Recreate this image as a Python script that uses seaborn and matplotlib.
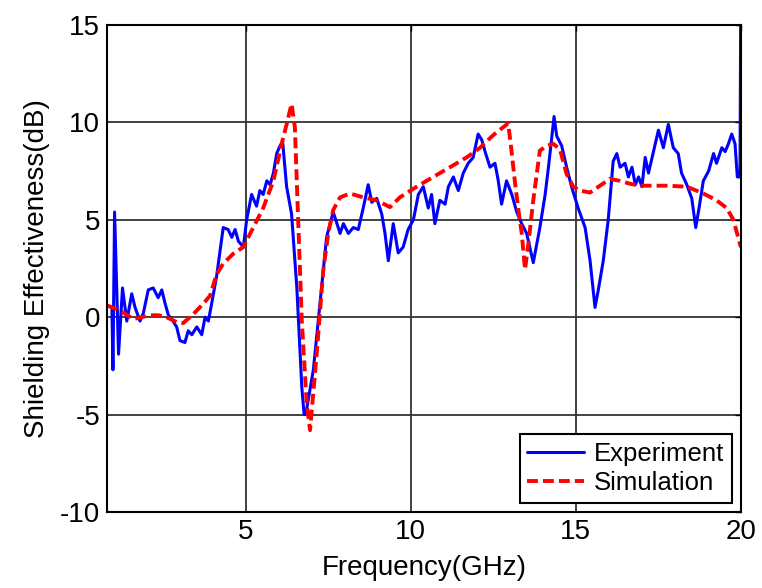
import numpy as np
import pandas as pd
import matplotlib
matplotlib.use("Agg")
import matplotlib.pyplot as plt
import seaborn as sns

exp_freq = [0.95, 0.98, 1.03, 1.15, 1.27, 1.40, 1.55, 1.65, 1.80, 1.90, 2.05, 2.20, 2.35, 2.46,
            2.56, 2.66, 2.76, 2.91, 3.01, 3.16, 3.26, 3.37, 3.52, 3.67, 3.77, 3.87, 3.97, 4.12,
            4.32, 4.47, 4.58, 4.68, 4.78, 4.93, 5.03, 5.18, 5.33, 5.43, 5.53, 5.64, 5.74, 5.84,
            5.94, 6.04, 6.12, 6.24, 6.39, 6.55, 6.70, 6.77, 6.82, 7.05, 7.25, 7.45, 7.65, 7.86,
            7.96, 8.11, 8.26, 8.41, 8.56, 8.71, 8.82, 8.97, 9.12, 9.22, 9.32, 9.47, 9.62, 9.77,
            9.92, 10.08, 10.23, 10.38, 10.53, 10.63, 10.73, 10.88, 11.04, 11.14, 11.29, 11.44,
            11.59, 11.74, 11.89, 12.04, 12.15, 12.25, 12.40, 12.55, 12.65, 12.75, 12.90, 13.06,
            13.21, 13.36, 13.51, 13.71, 13.91, 14.07, 14.17, 14.27, 14.34, 14.42, 14.57, 14.72,
            14.87, 15.07, 15.28, 15.43, 15.58, 15.68, 15.83, 15.98, 16.13, 16.24, 16.34, 16.49,
            16.59, 16.70, 16.80, 16.90, 17.00, 17.10, 17.20, 17.35, 17.50, 17.65, 17.80, 17.95,
            18.10, 18.20, 18.36, 18.51, 18.63, 18.73, 18.86, 19.02, 19.17, 19.26, 19.42, 19.52,
            19.62, 19.72, 19.82, 19.89, 19.97, 19.99]
exp_se = [0.4, -2.7, 5.4, -1.9, 1.5, -0.2, 1.2, 0.5, -0.2, 0.2, 1.4, 1.5, 1.0, 1.4,
          0.7, 0.1, -0.1, -0.5, -1.2, -1.3, -0.7, -0.9, -0.5, -0.9, 0.0, -0.2, 0.7, 2.1,
          4.6, 4.5, 4.1, 4.5, 3.9, 3.6, 5.0, 6.3, 5.7, 6.5, 6.3, 7.0, 6.8, 7.4,
          8.4, 8.8, 9.0, 6.7, 5.3, 1.5, -3.6, -5.0, -5.0, -2.7, 0.7, 4.1, 5.4, 4.3,
          4.8, 4.3, 4.6, 4.5, 5.6, 6.8, 5.9, 6.1, 5.3, 4.3, 2.9, 4.8, 3.3, 3.6,
          4.5, 5.0, 6.3, 6.7, 5.6, 6.3, 4.8, 6.0, 5.8, 6.7, 7.2, 6.5,
          7.4, 7.9, 8.2, 9.4, 9.1, 8.5, 7.7, 7.9, 7.0, 5.8, 7.0, 6.3,
          5.4, 4.8, 4.3, 2.8, 4.6, 6.3, 7.7, 9.2, 10.3, 9.3, 8.8, 7.7,
          6.7, 5.6, 4.6, 2.9, 0.5, 1.4, 2.9, 5.0, 8.0, 8.4, 7.7, 7.9,
          7.2, 7.7, 6.8, 7.2, 6.7, 8.2, 7.4, 8.5, 9.6, 8.7, 9.9, 8.7,
          8.4, 7.4, 6.8, 6.1, 4.6, 5.6, 7.0, 7.5, 8.4, 7.9, 8.7, 8.5,
          8.9, 9.4, 8.9, 7.2, 7.2, 15.0]

# simulated shielding effectiveness
sim_freq = [0.80, 1.19, 1.60, 2.10, 2.35, 2.60, 2.91, 3.11, 3.41, 3.72, 3.92, 4.12, 4.32, 4.62,
            4.93, 5.23, 5.53, 5.84, 6.09, 6.24, 6.39, 6.49, 6.59, 6.70, 6.85, 6.95, 7.15, 7.35,
            7.50, 7.65, 7.86, 8.16, 8.56, 8.97, 9.37, 9.67, 10.18, 10.68, 11.19, 11.69, 12.10,
            12.50, 12.95, 13.05, 13.16, 13.26, 13.36, 13.46, 13.56, 13.71, 13.91, 14.12, 14.32,
            14.52, 14.72, 14.92, 15.12, 15.43, 15.73, 16.03, 16.33, 16.64, 16.94, 17.24, 17.75,
            18.36, 18.86, 19.26, 19.57, 19.77, 19.97, 20.0]
sim_se = [0.6, 0.35, -0.1, 0.1, 0.1, 0.0, -0.25, -0.3, 0.15, 0.7, 1.1, 2.2, 2.75, 3.25,
          3.6, 4.6, 5.6, 7.0, 8.9, 9.9, 10.95, 9.75, 5.0, -0.2, -4.45, -5.8, -1.9, 2.4,
          4.3, 5.5, 6.15, 6.35, 6.15, 6.0, 5.65, 6.15, 6.7, 7.2, 7.7, 8.2, 8.7,
          9.35, 9.95, 8.55, 6.85, 5.5, 4.3, 2.45, 3.75, 6.0, 8.55, 8.8, 8.9,
          8.6, 7.35, 6.7, 6.5, 6.4, 6.75, 7.1, 7.0, 6.85, 6.75, 6.75, 6.75,
          6.7, 6.35, 6.0, 5.6, 5.0, 3.75, 3.6]

x_ticks = [5, 10, 15, 20]
y_ticks = [-10, -5, 0, 5, 10, 15]

sns.set_style("white")
plt.rcParams['font.family'] = ['Liberation Sans', 'DejaVu Sans']
plt.rcParams['axes.unicode_minus'] = False
for key in ['text.color', 'axes.labelcolor', 'xtick.color', 'ytick.color']:
    plt.rcParams[key] = 'black'

exp_df = pd.DataFrame({'Frequency': exp_freq, 'SE': exp_se})
sim_df = pd.DataFrame({'Frequency': sim_freq, 'SE': sim_se})

fig = plt.figure(figsize=(7.62, 5.88), dpi=100)
ax = fig.add_axes([0.1404, 0.1293, 0.832, 0.8282])

sns.lineplot(data=exp_df, x='Frequency', y='SE', ax=ax, color='#0000ff',
             linewidth=2.2, label='Experiment', sort=False)
sns.lineplot(data=sim_df, x='Frequency', y='SE', ax=ax, color='#ff0000',
             linewidth=2.8, linestyle=(0, (2.8, 1.3)), label='Simulation', sort=False)

ax.set_xlim(0.8, 20)
ax.set_ylim(-10, 15)
ax.set_xticks(x_ticks)
ax.set_yticks(y_ticks)
ax.grid(True, color='#333333', linewidth=1.3)
ax.tick_params(direction='in', length=4, width=1, labelsize=20, top=True, right=True, pad=5)
for s in ax.spines.values():
    s.set_color('black')
    s.set_linewidth(1.5)

ax.set_xlabel('Frequency(GHz)', fontsize=20, labelpad=7)
ax.set_ylabel('Shielding Effectiveness(dB)', fontsize=20, labelpad=7)

leg = ax.legend(loc='lower right', fontsize=18.5, fancybox=False, framealpha=1,
                edgecolor='black', borderaxespad=0.35, handlelength=2.2,
                labelspacing=0.2, borderpad=0.3, handletextpad=0.4)
leg.get_frame().set_linewidth(1.5)

fig.savefig('out.png', dpi=100)
